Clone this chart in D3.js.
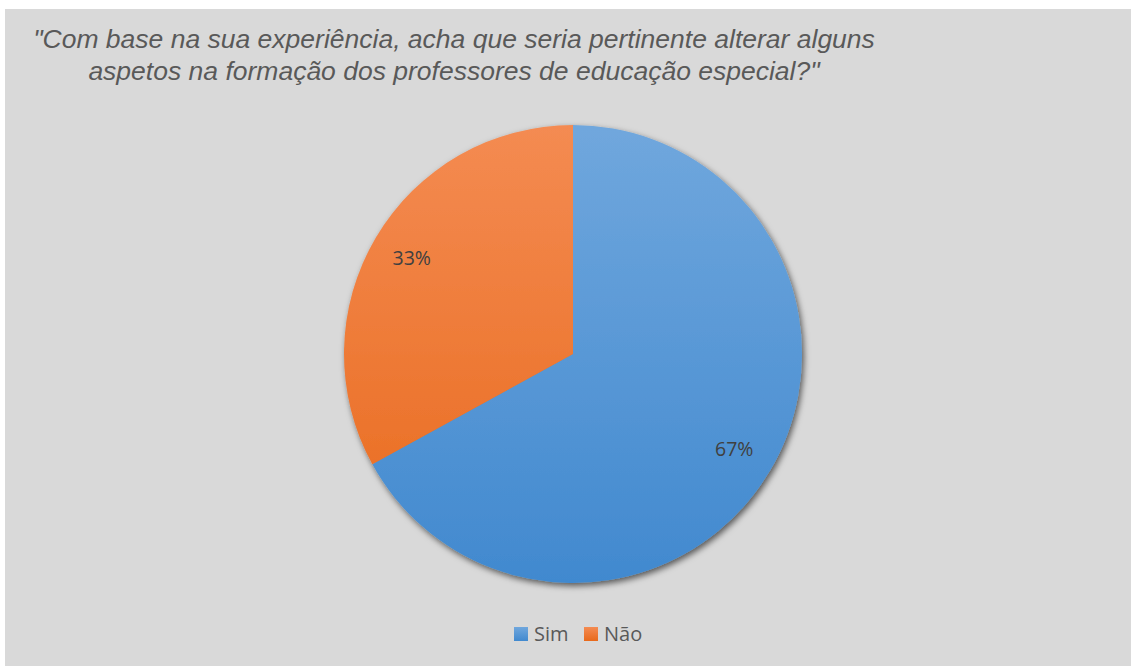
<!DOCTYPE html>
<html>
<head>
<meta charset="utf-8">
<script src="https://cdn.jsdelivr.net/npm/d3@7"></script>
<style>
  body { margin: 0; background: #fff; }
  svg { display: block; }
</style>
</head>
<body>
<div id="chart"></div>
<script>
// chart data
const categories = ["Sim", "Não"];
const values = [67, 33];
const titleLines = ["\"Com base na sua experiência, acha que seria pertinente alterar alguns",
                    "aspetos na formação dos professores de educação especial?\""];

const W = 1131, H = 666;
const svg = d3.select("#chart").append("svg")
    .attr("width", W).attr("height", H);

const defs = svg.append("defs");
// gradients per slice
const grads = [["#70a7dd", "#4189cf"], ["#f48b52", "#e8691b"]];
grads.forEach((g, i) => {
    const lg = defs.append("linearGradient")
        .attr("id", "g" + i)
        .attr("gradientUnits", "userSpaceOnUse")
        .attr("x1", 0).attr("y1", -228).attr("x2", 0).attr("y2", 228);
    lg.append("stop").attr("offset", "0%").attr("stop-color", g[0]);
    lg.append("stop").attr("offset", "100%").attr("stop-color", g[1]);

    const lg2 = defs.append("linearGradient").attr("id", "lg" + i)
        .attr("x1", 0).attr("y1", 0).attr("x2", 0).attr("y2", 1);
    lg2.append("stop").attr("offset", "0%").attr("stop-color", g[0]);
    lg2.append("stop").attr("offset", "100%").attr("stop-color", g[1]);
});
const f = defs.append("filter").attr("id", "shadow")
    .attr("x", "-20%").attr("y", "-20%").attr("width", "140%").attr("height", "140%");
f.append("feDropShadow").attr("dx", 2).attr("dy", 3).attr("stdDeviation", 3)
    .attr("flood-color", "#000").attr("flood-opacity", 0.6);

// background panel
svg.append("rect")
    .attr("x", 5).attr("y", 9).attr("width", W - 5).attr("height", H - 9)
    .attr("fill", "#d9d9d9");

// title
svg.append("g").selectAll("text")
    .data(titleLines)
    .join("text")
        .attr("x", 454)
        .attr("y", (d, i) => 48 + i * 32)
        .attr("text-anchor", "middle")
        .style("font-family", "'Liberation Sans', Arial, sans-serif")
        .style("font-style", "italic")
        .style("font-size", "26.5px")
        .style("fill", "#595959")
        .text(d => d);

// pie
const cx = 573, cy = 354, r = 229;
const pie = d3.pie().sort(null).value(d => d);
const arc = d3.arc().innerRadius(0).outerRadius(r);
const labelArc = d3.arc().innerRadius(r * 0.818).outerRadius(r * 0.818);

const g = svg.append("g").attr("transform", `translate(${cx}, ${cy})`);
const arcs = pie(values);

g.append("g").attr("filter", "url(#shadow)")
    .selectAll("path")
    .data(arcs)
    .join("path")
        .attr("d", arc)
        .attr("fill", (d, i) => `url(#g${i})`);

g.selectAll(".lbl")
    .data(arcs)
    .join("text")
        .attr("class", "lbl")
        .attr("transform", d => `translate(${labelArc.centroid(d)})`)
        .attr("text-anchor", "middle")
        .attr("dy", "0.35em")
        .style("font-family", "'Open Sans', 'Noto Sans', sans-serif")
        .style("font-size", "19.5px")
        .style("fill", "#404040")
        .text(d => d.data + "%");

// legend
const legend = svg.append("g").attr("transform", "translate(514, 634)");
const offsets = [0, 70];
categories.forEach((c, i) => {
    const it = legend.append("g").attr("transform", `translate(${offsets[i]}, 0)`);
    it.append("rect").attr("x", 0).attr("y", -7).attr("width", 14).attr("height", 14)
        .attr("fill", `url(#lg${i})`);
    it.append("text").attr("x", 20).attr("y", 0).attr("dy", "0.36em")
        .style("font-family", "'Open Sans', 'Noto Sans', sans-serif")
        .style("font-size", "20px")
        .style("fill", "#595959")
        .text(c);
});
</script>
</body>
</html>
